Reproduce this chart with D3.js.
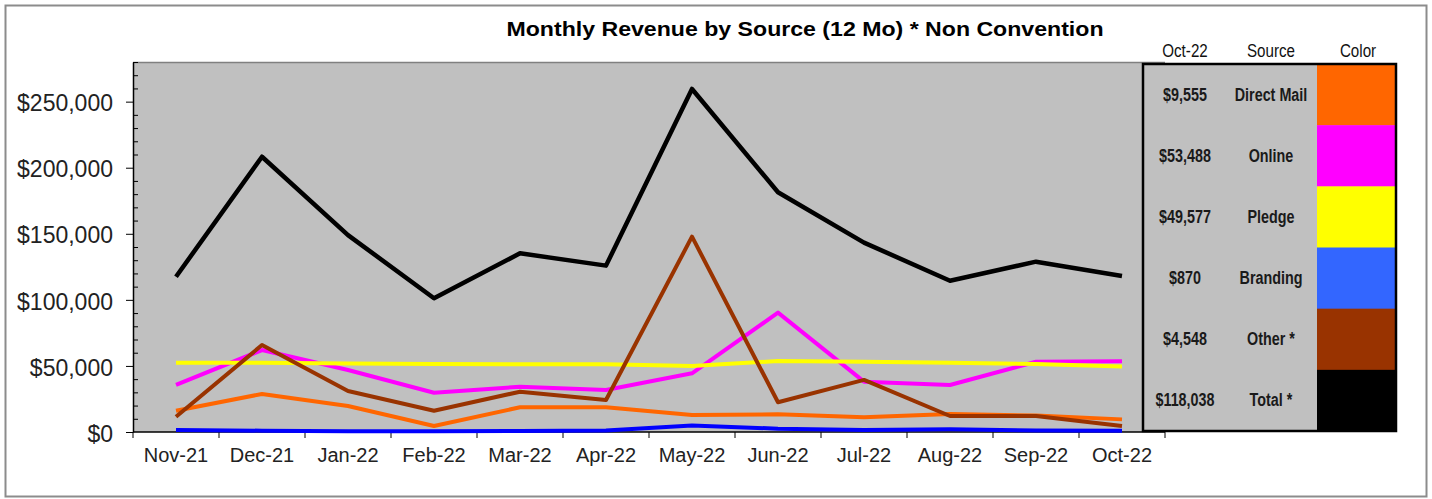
<!DOCTYPE html>
<html>
<head>
<meta charset="utf-8">
<script src="https://cdn.jsdelivr.net/npm/d3@7"></script>
<style>
  html, body { margin: 0; padding: 0; background: #fff; }
  svg { display: block; }
  text { font-family: "Liberation Sans", Arial, sans-serif; }
</style>
</head>
<body>
<svg id="chart" width="1432" height="499"></svg>
<script>
// ---- data ----
const months = ["Nov-21","Dec-21","Jan-22","Feb-22","Mar-22","Apr-22","May-22","Jun-22","Jul-22","Aug-22","Sep-22","Oct-22"];
const directMail = [16100, 28800, 19700, 4500, 18700, 18700, 12900, 13400, 11100, 13600, 12400, 9555];
const online     = [35600, 62000, 46900, 29700, 34300, 31800, 44400, 90300, 38100, 35600, 53200, 53488];
const pledge     = [52400, 52400, 51900, 51500, 51300, 51200, 49900, 53700, 53200, 52400, 51500, 49577];
const branding   = [1500, 1000, 500, 600, 800, 1200, 5000, 2500, 1500, 2000, 1200, 870];
const other      = [11600, 65800, 31000, 16100, 30500, 24200, 147800, 22500, 39400, 12100, 12100, 4548];
const total      = [117500, 208300, 149000, 101200, 135200, 125900, 259600, 181400, 143300, 114500, 128900, 118038];
const sourceNames  = ["Direct Mail", "Online", "Pledge", "Branding", "Other *", "Total *"];
const lineColors   = ["#FF6600", "#FF00FF", "#FFFF00", "#0000FF", "#993300", "#000000"];
const swatchColors = ["#FF6600", "#FF00FF", "#FFFF00", "#3366FF", "#993300", "#000000"];
const yTicks = [0, 50000, 100000, 150000, 200000, 250000];
const titleText = "Monthly Revenue by Source (12 Mo) * Non Convention";
const tableHeaders = ["Oct-22", "Source", "Color"];

const seriesList = [directMail, online, pledge, branding, other, total];

// ---- layout ----
const svg = d3.select("#chart");
const plot = {left: 133, right: 1165, top: 62, bottom: 432};
const table = {left: 1143, right: 1396, top: 64, bottom: 431, colorLeft: 1317};

// outer frame
svg.append("rect").attr("x", 5.5).attr("y", 5.5).attr("width", 1421).attr("height", 491)
  .attr("fill", "#fff").attr("stroke", "#8c8c8c").attr("stroke-width", 2);

// title
svg.append("text").attr("x", 805).attr("y", 36).attr("text-anchor", "middle")
  .attr("font-size", 21).attr("font-weight", "bold").attr("fill", "#000")
  .attr("textLength", 597).attr("lengthAdjust", "spacingAndGlyphs")
  .text(titleText);

const x = d3.scaleBand().domain(months).range([plot.left, plot.right]);
const y = d3.scaleLinear().domain([0, 280000]).range([plot.bottom, plot.top]);

// plot area
svg.append("rect").attr("x", plot.left).attr("y", plot.top)
  .attr("width", plot.right - plot.left).attr("height", plot.bottom - plot.top)
  .attr("fill", "#C0C0C0");
svg.append("line").attr("x1", plot.left).attr("x2", plot.right).attr("y1", plot.top + 0.5).attr("y2", plot.top + 0.5)
  .attr("stroke", "#808080").attr("stroke-width", 1.5);

// y axis: major ticks outward with labels
const yAxis = d3.axisLeft(y).tickValues(yTicks).tickSize(7).tickSizeOuter(0).tickPadding(13)
  .tickFormat(d3.format("$,"));
const gy = svg.append("g").attr("transform", `translate(${plot.left},0)`).call(yAxis);
gy.select(".domain").attr("stroke", "#000").attr("stroke-width", 1.5);
gy.selectAll(".tick line").attr("stroke", "#000");
gy.selectAll(".tick text").attr("font-size", 23).attr("fill", "#222")
  .attr("font-family", "'Liberation Sans', Arial, sans-serif").attr("dy", "0.4em");
// minor ticks inward
const minor = d3.range(0, 280001, 10000).filter(v => v % 50000 !== 0);
const yMinor = d3.axisRight(y).tickValues(minor).tickSize(5).tickFormat("");
const gym = svg.append("g").attr("transform", `translate(${plot.left},0)`).call(yMinor);
gym.select(".domain").remove();
gym.selectAll(".tick line").attr("stroke", "#000");

// x axis: ticks at boundaries
const gx = svg.append("g").attr("transform", `translate(0,${plot.bottom})`);
gx.append("line").attr("x1", plot.left).attr("x2", plot.right).attr("stroke", "#000").attr("stroke-width", 1.5);
const boundaries = months.map(m => x(m)).concat([x(months[months.length - 1]) + x.bandwidth()]);
gx.selectAll("line.tk").data(boundaries).join("line").attr("class", "tk")
  .attr("x1", d => d).attr("x2", d => d).attr("y1", 0).attr("y2", 6).attr("stroke", "#000");
gx.selectAll("text").data(months).join("text")
  .attr("x", d => x(d) + x.bandwidth() / 2).attr("y", 30)
  .attr("text-anchor", "middle").attr("font-size", 20).attr("fill", "#222").text(d => d);

// lines
const lineGen = d3.line()
  .x((d, i) => x(months[i]) + x.bandwidth() / 2)
  .y(d => y(d));
svg.append("g").selectAll("path").data(seriesList).join("path")
  .attr("d", d => lineGen(d))
  .attr("fill", "none")
  .attr("stroke", (d, i) => lineColors[i])
  .attr("stroke-width", (d, i) => i === 5 ? 4.5 : 4)
  .attr("stroke-linejoin", "round");

// table
const tg = svg.append("g");
const rowH = (table.bottom - table.top) / sourceNames.length;
tg.append("rect").attr("x", table.left).attr("y", table.top)
  .attr("width", table.colorLeft - table.left).attr("height", table.bottom - table.top)
  .attr("fill", "#C0C0C0");
tg.selectAll("rect.sw").data(swatchColors).join("rect").attr("class", "sw")
  .attr("x", table.colorLeft).attr("y", (d, i) => table.top + i * rowH)
  .attr("width", table.right - table.colorLeft).attr("height", rowH + 0.5)
  .attr("fill", d => d);
tg.append("rect").attr("x", table.left).attr("y", table.top)
  .attr("width", table.right - table.left).attr("height", table.bottom - table.top)
  .attr("fill", "none").attr("stroke", "#000").attr("stroke-width", 2.5);

const colX = [1185, 1271, 1358];
const narrow = 0.82;
tg.selectAll("text.hd").data(tableHeaders).join("text").attr("class", "hd")
  .attr("transform", (d, i) => `translate(${colX[i]},57) scale(${narrow},1)`)
  .attr("text-anchor", "middle")
  .attr("font-size", 18.5).attr("fill", "#111").text(d => d);

const fmt = d3.format("$,");
tg.selectAll("text.val").data(seriesList).join("text").attr("class", "val")
  .attr("transform", (d, i) => `translate(${colX[0]},${table.top + (i + 0.5) * rowH + 6}) scale(${narrow},1)`)
  .attr("text-anchor", "middle").attr("font-size", 17.5).attr("font-weight", "bold").attr("fill", "#1a1a1a")
  .text(d => fmt(d[d.length - 1]));
tg.selectAll("text.src").data(sourceNames).join("text").attr("class", "src")
  .attr("transform", (d, i) => `translate(${colX[1]},${table.top + (i + 0.5) * rowH + 6}) scale(${narrow},1)`)
  .attr("text-anchor", "middle").attr("font-size", 17.5).attr("font-weight", "bold").attr("fill", "#1a1a1a")
  .text(d => d);
</script>
</body>
</html>
